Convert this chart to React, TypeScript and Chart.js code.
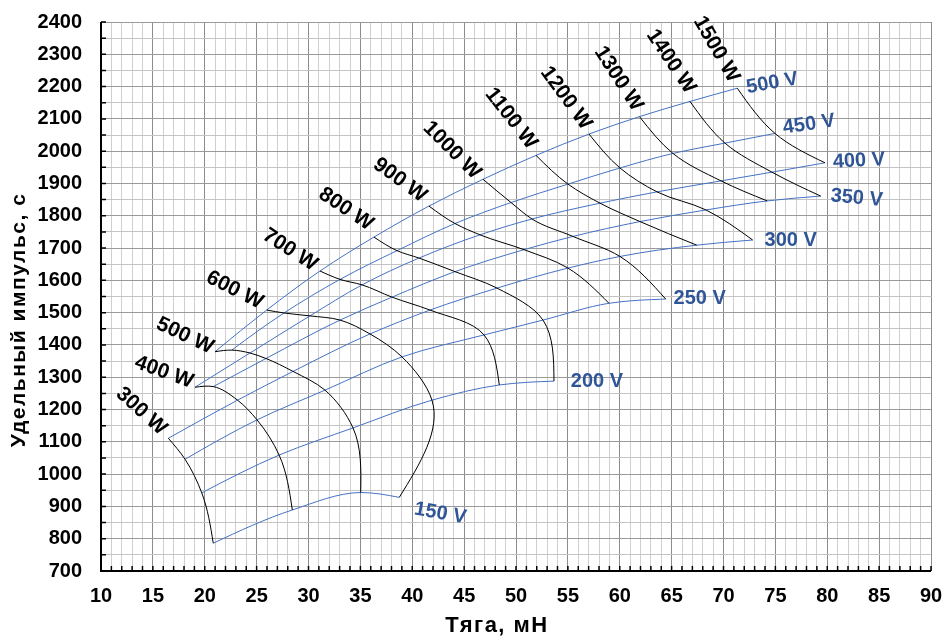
import React, { useEffect, useRef } from "react";
import { Chart, registerables } from "chart.js";

Chart.register(...registerables);

// ---- data (thrust, mN / specific impulse, s) ----
const voltages = [500, 450, 400, 350, 300, 250, 200, 150];
const powerLevels = [300, 400, 500, 600, 700, 800, 900, 1000, 1100, 1200, 1300, 1400, 1500];

const thrust300W = [null, null, null, null, 16.49, 18.1, 19.71, 20.82];
const isp300W = [null, null, null, null, 1111, 1046, 942, 786];
const thrust400W = [null, null, 19.06, 20.82, 23.16, 25.04, 27.17, 28.44];
const isp400W = [null, null, 1269, 1271, 1229, 1168, 1059, 889];
const thrust500W = [20.99, 22.6, 24.36, 25.9, 28.51, 31.59, 34.29, 35.03];
const isp500W = [1379, 1384, 1375, 1358, 1318, 1260, 1143, 943];
const thrust600W = [25.97, 27.64, 30.14, 33.04, 35.93, 39.01, 41.9, 38.75];
const isp600W = [1508, 1499, 1490, 1477, 1434, 1363, 1229, 928];
const thrust700W = [31.11, 33.04, 35.16, 38.05, 41.71, 46.92, 48.39, null];
const isp700W = [1629, 1603, 1586, 1548, 1508, 1431, 1276, null];
const thrust800W = [36.31, 38.53, 40.65, 44.12, 48.17, 52.6, 53.66, null];
const isp800W = [1734, 1692, 1669, 1627, 1576, 1477, 1288, null];
const thrust900W = [41.61, 44.12, 46.53, 50.77, 55.01, 58.96, null, null];
const isp900W = [1830, 1776, 1741, 1695, 1638, 1529, null, null];
const thrust1000W = [46.82, 49.52, 51.54, 55.49, 60.02, 64.43, null, null];
const isp1000W = [1913, 1841, 1790, 1736, 1674, 1542, null, null];
const thrust1100W = [51.93, 55.01, 58.1, 61.95, 67.42, null, null, null];
const isp1100W = [1987, 1898, 1839, 1782, 1709, null, null, null];
const thrust1200W = [57.04, 60.02, 63.59, 68.31, 72.81, null, null, null];
const isp1200W = [2053, 1948, 1874, 1818, 1725, null, null, null];
const thrust1300W = [61.9, 65.13, 69.76, 74.22, null, null, null, null];
const isp1300W = [2107, 1993, 1908, 1846, null, null, null, null];
const thrust1400W = [66.77, 70.14, 74.67, 79.37, null, null, null, null];
const isp1400W = [2154, 2025, 1935, 1861, null, null, null, null];
const thrust1500W = [71.33, 74.96, 79.78, null, null, null, null, null];
const isp1500W = [2195, 2055, 1964, null, null, null, null, null];

const thrustByPower = [thrust300W, thrust400W, thrust500W, thrust600W, thrust700W, thrust800W, thrust900W, thrust1000W, thrust1100W, thrust1200W, thrust1300W, thrust1400W, thrust1500W];
const ispByPower = [isp300W, isp400W, isp500W, isp600W, isp700W, isp800W, isp900W, isp1000W, isp1100W, isp1200W, isp1300W, isp1400W, isp1500W];

const xMin = 10, xMax = 90, xLabelStep = 5;
const yMin = 700, yMax = 2400, yLabelStep = 100;

const xTitle = "Тяга, мН";
const yTitle = "Удельный импульс, с";

// ---- label styling (pixel offsets from the anchored data point) ----
const powerLabelStyle: Record<number, { dx: number; dy: number; rot: number }> = {
  300: { dx: -27, dy: -27, rot: 42 },
  400: { dx: -31, dy: -15, rot: 20 },
  500: { dx: -30, dy: -16, rot: 25 },
  600: { dx: -32, dy: -20, rot: 27 },
  700: { dx: -30, dy: -21, rot: 33 },
  800: { dx: -28, dy: -28, rot: 34 },
  900: { dx: -29, dy: -26, rot: 36 },
  1000: { dx: -31, dy: -29, rot: 45 },
  1100: { dx: -25, dy: -37, rot: 52 },
  1200: { dx: -23, dy: -36, rot: 54 },
  1300: { dx: -21, dy: -38, rot: 57 },
  1400: { dx: -19, dy: -40, rot: 56 },
  1500: { dx: -21, dy: -39, rot: 60 },
};
const voltLabelStyle: Record<number, { dx: number; dy: number; rot: number }> = {
  150: { dx: 41, dy: 16, rot: 10 },
  200: { dx: 43, dy: 0, rot: 0 },
  250: { dx: 34, dy: -1, rot: 0 },
  300: { dx: 38, dy: 0, rot: 0 },
  350: { dx: 36, dy: 2, rot: 5 },
  400: { dx: 34, dy: -2, rot: -3 },
  450: { dx: 34, dy: -9, rot: -8 },
  500: { dx: 35, dy: -5, rot: -10 },
};

const FONT = '"Liberation Sans", Arial, sans-serif';
const BLUE = "#4472C4";
const BLUE_TEXT = "#2F5597";

function powerPoints(i: number) {
  const pts: { x: number; y: number }[] = [];
  voltages.forEach((_, j) => {
    const t = thrustByPower[i][j];
    const s = ispByPower[i][j];
    if (t != null && s != null) pts.push({ x: t, y: s });
  });
  return pts;
}
function voltagePoints(j: number) {
  const pts: { x: number; y: number }[] = [];
  powerLevels.forEach((_, i) => {
    const t = thrustByPower[i][j];
    const s = ispByPower[i][j];
    if (t != null && s != null) pts.push({ x: t, y: s });
  });
  return pts;
}

// chord-length Catmull-Rom smoothing applied to Chart.js point control points
function smoothControlPoints(points: any[]) {
  const n = points.length;
  if (n < 3) return;
  const P = points.map((p) => ({ x: p.x, y: p.y }));
  const dt: number[] = [];
  for (let i = 0; i < n - 1; i++) {
    dt.push(Math.max(1e-6, Math.hypot(P[i + 1].x - P[i].x, P[i + 1].y - P[i].y)));
  }
  const m: { x: number; y: number }[] = new Array(n);
  for (let i = 1; i < n - 1; i++) {
    const a = dt[i - 1], b = dt[i];
    m[i] = {
      x: (P[i].x - P[i - 1].x) / a - (P[i + 1].x - P[i - 1].x) / (a + b) + (P[i + 1].x - P[i].x) / b,
      y: (P[i].y - P[i - 1].y) / a - (P[i + 1].y - P[i - 1].y) / (a + b) + (P[i + 1].y - P[i].y) / b,
    };
  }
  m[0] = {
    x: (3 * (P[1].x - P[0].x) / dt[0] - m[1].x) / 2,
    y: (3 * (P[1].y - P[0].y) / dt[0] - m[1].y) / 2,
  };
  m[n - 1] = {
    x: (3 * (P[n - 1].x - P[n - 2].x) / dt[n - 2] - m[n - 2].x) / 2,
    y: (3 * (P[n - 1].y - P[n - 2].y) / dt[n - 2] - m[n - 2].y) / 2,
  };
  for (let i = 0; i < n; i++) {
    const a = i > 0 ? dt[i - 1] : 0;
    const b = i < n - 1 ? dt[i] : 0;
    const p = points[i];
    p.cp1x = P[i].x - (m[i].x * a) / 3;
    p.cp1y = P[i].y - (m[i].y * a) / 3;
    p.cp2x = P[i].x + (m[i].x * b) / 3;
    p.cp2y = P[i].y + (m[i].y * b) / 3;
  }
}

const overlayPlugin = {
  id: "overlay",
  beforeDatasetsDraw(chart: any) {
    const { ctx, chartArea: a, scales } = chart;
    const x = scales.x, y = scales.y;
    chart.data.datasets.forEach((_: any, i: number) => {
      const meta = chart.getDatasetMeta(i);
      if (meta.dataset && typeof meta.dataset.updateControlPoints === "function") {
        meta.dataset.updateControlPoints(a, "x");
      }
      smoothControlPoints(meta.data);
    });
    ctx.save();
    ctx.strokeStyle = "#000";
    ctx.lineWidth = 1.5;
    ctx.beginPath();
    for (let v = yMin; v <= yMax; v += 50) {
      const py = y.getPixelForValue(v);
      ctx.moveTo(a.left, py);
      ctx.lineTo(a.left + 5, py);
    }
    for (let v = xMin; v <= xMax; v += 1) {
      const px = x.getPixelForValue(v);
      ctx.moveTo(px, a.bottom);
      ctx.lineTo(px, a.bottom - 5);
    }
    ctx.stroke();
    ctx.lineWidth = 2;
    ctx.beginPath();
    ctx.moveTo(a.left, a.top);
    ctx.lineTo(a.left, a.bottom);
    ctx.lineTo(a.right, a.bottom);
    ctx.stroke();
    ctx.restore();
  },
  afterDatasetsDraw(chart: any) {
    const { ctx, scales } = chart;
    const x = scales.x, y = scales.y;
    ctx.save();
    ctx.textAlign = "center";
    ctx.textBaseline = "middle";
    ctx.fillStyle = "#000";
    ctx.font = `bold 21px ${FONT}`;
    powerLevels.forEach((p, i) => {
      const pts = powerPoints(i);
      const top = pts[0];
      const st = powerLabelStyle[p];
      const px = x.getPixelForValue(top.x) + st.dx;
      const py = y.getPixelForValue(top.y) + st.dy;
      ctx.save();
      ctx.translate(px, py);
      ctx.rotate((st.rot * Math.PI) / 180);
      ctx.fillText(`${p} W`, 0, 0);
      ctx.restore();
    });
    ctx.fillStyle = BLUE_TEXT;
    ctx.font = `bold 20px ${FONT}`;
    voltages.forEach((v, j) => {
      const pts = voltagePoints(j);
      const end = pts[pts.length - 1];
      const st = voltLabelStyle[v];
      const px = x.getPixelForValue(end.x) + st.dx;
      const py = y.getPixelForValue(end.y) + st.dy;
      ctx.save();
      ctx.translate(px, py);
      ctx.rotate((st.rot * Math.PI) / 180);
      ctx.fillText(`${v} V`, 0, 0);
      ctx.restore();
    });
    ctx.fillStyle = "#000";
    ctx.font = `bold 22px ${FONT}`;
    try { (ctx as any).letterSpacing = "1.5px"; } catch (e) {}
    ctx.fillText(xTitle, 497, 626);
    ctx.font = `bold 21px ${FONT}`;
    ctx.save();
    ctx.translate(19, 320);
    ctx.rotate(-Math.PI / 2);
    ctx.fillText(yTitle, 0, 0);
    ctx.restore();
    try { (ctx as any).letterSpacing = "0px"; } catch (e) {}
    ctx.restore();
  },
};

export default function App() {
  const ref = useRef<HTMLCanvasElement | null>(null);
  useEffect(() => {
    const canvas = ref.current;
    if (!canvas) return;
    const datasets: any[] = [];
    powerLevels.forEach((p, i) => {
      datasets.push({
        label: `${p} W`,
        data: powerPoints(i),
        borderColor: "#000",
        borderWidth: 1,
        pointRadius: 0,
        tension: 0.4,
        fill: false,
      });
    });
    voltages.forEach((v, j) => {
      datasets.push({
        label: `${v} V`,
        data: voltagePoints(j),
        borderColor: BLUE,
        borderWidth: 1,
        pointRadius: 0,
        tension: 0.4,
        fill: false,
      });
    });
    const chart = new Chart(canvas, {
      type: "line",
      data: { datasets },
      plugins: [overlayPlugin],
      options: {
        responsive: false,
        animation: false,
        devicePixelRatio: 1,
        layout: { padding: { left: 0, right: 13, top: 22, bottom: 0 }, autoPadding: false } as any,
        plugins: { legend: { display: false }, tooltip: { enabled: false } },
        scales: {
          x: {
            type: "linear",
            min: xMin,
            max: xMax,
            afterFit: (s: any) => { s.height = 67; s.paddingLeft = 0; s.paddingRight = 0; },
            border: { display: false },
            grid: {
              drawTicks: false,
              lineWidth: 1,
              color: (c: any) => (c.tick && c.tick.value % xLabelStep === 0 ? "#8c8c8c" : "#cfcfcf"),
            },
            ticks: {
              stepSize: 1,
              autoSkip: false,
              maxRotation: 0,
              minRotation: 0,
              padding: 13,
              color: "#000",
              font: { family: FONT, weight: "bold", size: 20 },
              callback: (v: any) => (Number(v) % xLabelStep === 0 ? String(v) : ""),
            },
          },
          y: {
            type: "linear",
            min: yMin,
            max: yMax,
            afterFit: (s: any) => { s.width = 101; s.paddingTop = 0; s.paddingBottom = 0; },
            border: { display: false },
            grid: {
              drawTicks: false,
              lineWidth: 1,
              color: (c: any) => (c.tick && c.tick.value % yLabelStep === 0 ? "#9a9a9a" : "#c4c4c4"),
            },
            ticks: {
              stepSize: 50,
              autoSkip: false,
              padding: 19,
              color: "#000",
              font: { family: FONT, weight: "bold", size: 20 },
              callback: (v: any) => (Number(v) % yLabelStep === 0 ? String(v) : ""),
            },
          },
        },
      } as any,
    });
    return () => chart.destroy();
  }, []);
  return (
    <div style={{ position: "absolute", left: 0, top: 0, width: 944, height: 638, background: "#fff" }}>
      <canvas ref={ref} width={944} height={638} style={{ display: "block", width: 944, height: 638 }} />
    </div>
  );
}
